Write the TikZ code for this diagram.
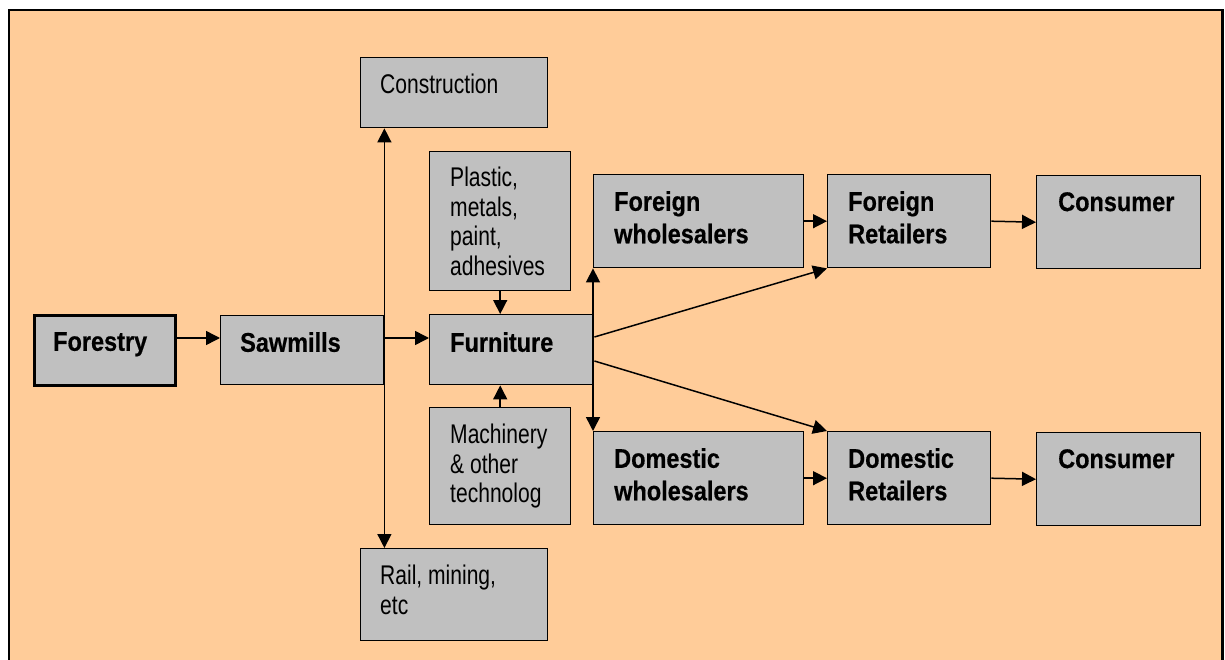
\documentclass[tikz,border=0pt]{standalone}
\usepackage{fontspec}
\setmainfont{Liberation Sans}
\newfontfamily\regf{Liberation Sans}[FakeStretch=0.78]
\newfontfamily\bldf{Liberation Sans}[FakeStretch=0.87,FakeBold=0.5]
\usetikzlibrary{arrows.meta,calc}
\definecolor{peach}{HTML}{FFCC99}
\definecolor{boxgray}{HTML}{C0C0C0}
\tikzset{
  box/.style={draw=black, fill=boxgray, line width=1.4pt, anchor=north west, inner sep=0pt, rectangle},
  txt/.style={anchor=north west, inner sep=0pt, align=left, font=\regf\fontsize{27}{29.5}\selectfont},
  btxt/.style={anchor=north west, inner sep=0pt, align=left, font=\bldf\bfseries\fontsize{27}{32.5}\selectfont},
  arr/.style={line width=1.5pt, -{Triangle[length=14pt,width=14pt]}},
  darr/.style={line width=1.5pt, {Triangle[length=14pt,width=14pt]}-{Triangle[length=14pt,width=14pt]}}
}
\newcommand{\bx}[6]{% name, x, y, w, h, extra
  \node[box, minimum width=#4pt, minimum height=#5pt, #6] (#1) at (#2,#3) {};}
\begin{document}
\begin{tikzpicture}[x=1pt,y=-1pt]
\useasboundingbox (0,0) rectangle (1225,660);
\clip (0,0) rectangle (1225,660);
\draw[line width=2.2pt, fill=peach] (9,10) rectangle (1222.5,690);

\bx{forestry}{33}{314}{141}{70}{line width=2.6pt}
\bx{sawmills}{220}{315}{163}{69}{}
\bx{construction}{360}{57}{187}{70}{}
\bx{plastic}{429}{151}{141}{139}{}
\bx{furniture}{429}{314}{164}{70}{}
\bx{machinery}{429}{407}{141}{117}{}
\bx{rail}{360}{548}{187}{92}{}
\bx{fw}{593}{174}{210}{93}{}
\bx{fr}{827}{174}{163}{93}{}
\bx{cf}{1036}{175}{164}{93}{}
\bx{dw}{593}{431}{210}{93}{}
\bx{dr}{827}{431}{163}{93}{}
\bx{cd}{1036}{432}{164}{93}{}

\node[btxt] (tforestry) at ($(forestry.north west)+(20,18)$) {Forestry};
\node[btxt] (tsawmills) at ($(sawmills.north west)+(20,17)$) {Sawmills};
\node[txt] (tconstruction) at ($(construction.north west)+(20,17)$) {Construction};
\node[txt] (tplastic) at ($(plastic.north west)+(21,16)$) {Plastic,\\metals,\\paint,\\adhesives};
\node[btxt] (tfurniture) at ($(furniture.north west)+(21,18)$) {Furniture};
\node[txt] (tmachinery) at ($(machinery.north west)+(21,17)$) {Machinery\\\&{} other\\technolog};
\node[txt] (trail) at ($(rail.north west)+(20,17)$) {Rail, mining,\\etc};
\node[btxt] (tfw) at ($(fw.north west)+(21,17)$) {Foreign\\wholesalers};
\node[btxt] (tfr) at ($(fr.north west)+(21,17)$) {Foreign\\Retailers};
\node[btxt] (tcf) at ($(cf.north west)+(22,17)$) {Consumer};
\node[btxt] (tdw) at ($(dw.north west)+(21,17)$) {Domestic\\wholesalers};
\node[btxt] (tdr) at ($(dr.north west)+(21,17)$) {Domestic\\Retailers};
\node[btxt] (tcd) at ($(cd.north west)+(22,17)$) {Consumer};

\coordinate (yA) at (0,338);
\coordinate (yF1) at (0,337);
\coordinate (yF2) at (0,361);

\draw[arr] (forestry.east |- yA) -- (sawmills.west |- yA);
\draw[darr] (sawmills.east |- construction.south) -- (sawmills.east |- rail.north);
\draw[arr] (sawmills.east |- yA) -- (furniture.west |- yA);
\draw[arr] (plastic.south) -- (plastic.south |- furniture.north);
\draw[arr] (machinery.north) -- (machinery.north |- furniture.south);
\draw[darr] (fw.south west) -- (dw.north west);
\draw[arr] (furniture.east |- yF1) -- (fr.south west);
\draw[arr] (furniture.east |- yF2) -- (dr.north west);
\draw[arr] (fw.east) -- (fr.west);
\draw[arr] (fr.east) -- (cf.west);
\draw[arr] (dw.east) -- (dr.west);
\draw[arr] (dr.east) -- (cd.west);
\end{tikzpicture}
\end{document}
